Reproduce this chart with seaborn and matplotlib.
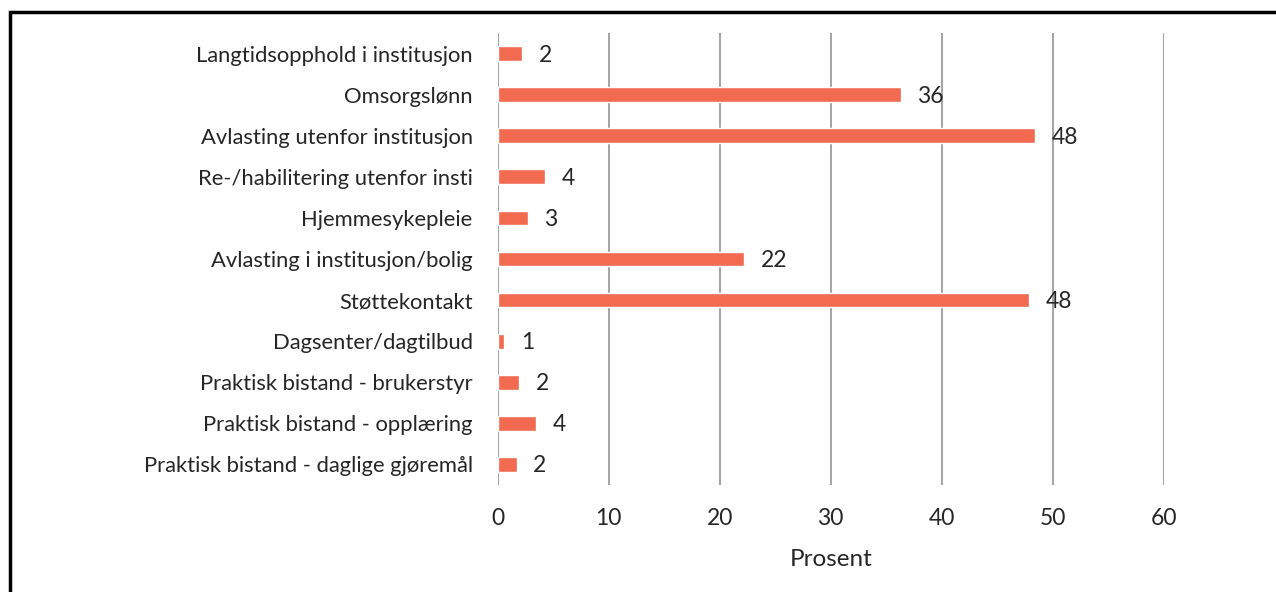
import matplotlib
matplotlib.use("Agg")
import matplotlib.pyplot as plt
import seaborn as sns
import pandas as pd
from matplotlib.patches import Rectangle

categories = [
    "Langtidsopphold i institusjon",
    "Omsorgslønn",
    "Avlasting utenfor institusjon",
    "Re-/habilitering utenfor insti",
    "Hjemmesykepleie",
    "Avlasting i institusjon/bolig",
    "Støttekontakt",
    "Dagsenter/dagtilbud",
    "Praktisk bistand - brukerstyr",
    "Praktisk bistand - opplæring",
    "Praktisk bistand - daglige gjøremål",
]
values = [2.2, 36.3, 48.4, 4.3, 2.7, 22.2, 47.9, 0.6, 1.9, 3.5, 1.7]
labels = ["2", "36", "48", "4", "3", "22", "48", "1", "2", "4", "2"]
xticks = [0, 10, 20, 30, 40, 50, 60]

sns.set_theme(style="white")
plt.rcParams["font.family"] = ["Lato", "DejaVu Sans"]

df = pd.DataFrame({"cat": categories, "val": values})

fig = plt.figure(figsize=(12.76, 5.92), dpi=100)
ax = fig.add_axes([0.390, 0.181, 0.522, 0.763])

sns.barplot(data=df, x="val", y="cat", orient="h", color="#F26B50",
            saturation=1, width=0.36, ax=ax)

for i, (v, lab) in enumerate(zip(values, labels)):
    ax.annotate(lab, (v, i), xytext=(12, -1), textcoords="offset points",
                va="center", ha="left", fontsize=16.5, color="#262626")

ax.set_xlim(0, 60)
ax.set_ylim(10.5, -0.5)
ax.set_xticks(xticks)
ax.set_xticklabels([str(t) for t in xticks], fontsize=16.5, color="#262626")
ax.tick_params(axis="y", labelsize=15.8, labelcolor="#262626", length=0, pad=18)
ax.tick_params(axis="x", length=0, pad=17)
ax.xaxis.grid(True, color="#A6A6A6", linewidth=1.5)
ax.set_axisbelow(True)
for s in ax.spines.values():
    s.set_visible(False)
ax.set_ylabel("")
ax.set_xlabel("Prosent", fontsize=17.5, color="#262626", labelpad=14)

fig.patches.append(Rectangle((10/1276, -0.1), 1.2, 1 - 12/592 + 0.1,
                             transform=fig.transFigure, fill=False,
                             edgecolor="black", linewidth=2.5, zorder=10))

fig.savefig("out.png", dpi=100)
